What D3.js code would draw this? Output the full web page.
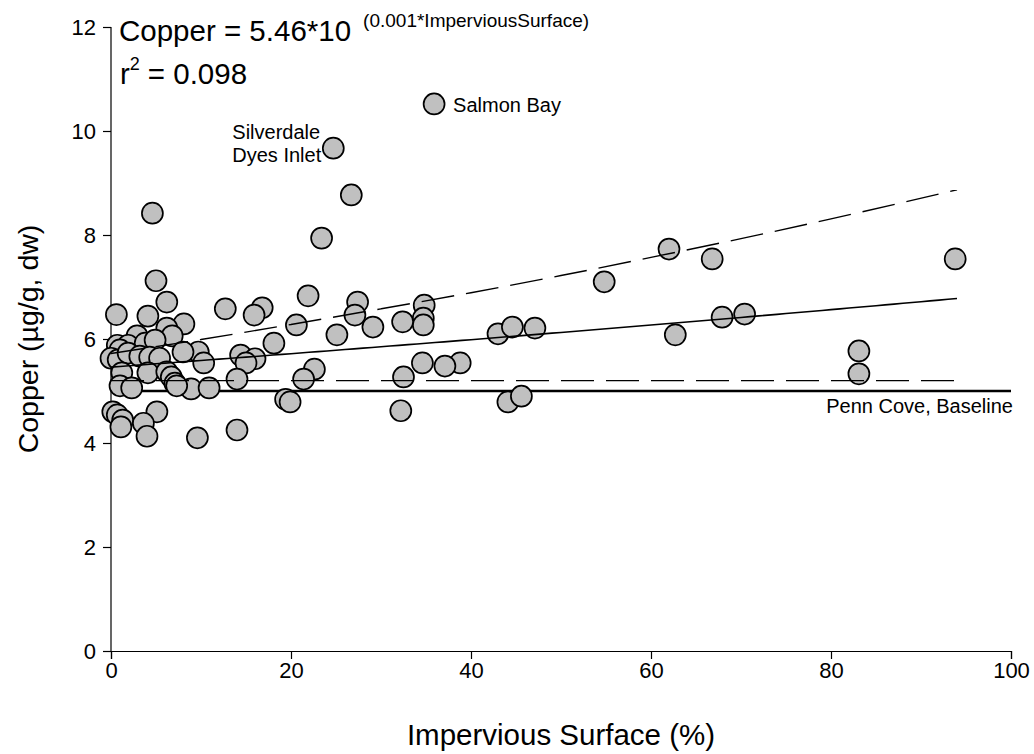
<!DOCTYPE html>
<html>
<head>
<meta charset="utf-8">
<script src="https://cdn.jsdelivr.net/npm/d3@7"></script>
<style>
  html, body { margin: 0; padding: 0; background: #fff; }
  svg { display: block; font-family: "Liberation Sans", Arial, sans-serif; }
</style>
</head>
<body>
<svg id="chart" width="1034" height="754"></svg>
<script>
// Impervious surface (%) and copper concentration (µg/g, dw) per site
const impervious = [35.9, 24.7, 26.7, 23.4, 4.6, 5.0, 62.0, 66.8, 93.8, 54.8,
  0.6, 6.2, 21.9, 27.4, 12.7, 16.8, 15.9, 27.1, 34.8, 34.7,
  34.7, 32.4, 29.1, 25.1, 20.6, 8.1, 4.1, 43.0, 44.6, 47.1,
  62.7, 67.9, 70.4, 18.1, 83.1, 83.1, 38.8, 34.6, 37.1, 22.6,
  21.4, 32.5, 32.2, 44.1, 45.6, 14.4, 16.0, 15.0, 14.0, 9.7,
  10.3, 8.9, 10.9, 19.4, 19.9, 6.2, 6.8, 2.9, 0.7, 1.9,
  3.8, 4.9, 1.0, 0.0, 0.8, 1.9, 3.2, 4.3, 5.4, 8.0,
  1.2, 4.1, 6.2, 6.7, 7.1, 7.3, 1.0, 2.3, 0.2, 0.7,
  1.3, 1.1, 5.1, 3.6, 4.0, 9.6, 14.0];
const copper = [10.52, 9.67, 8.77, 7.94, 8.42, 7.12, 7.73, 7.54, 7.54, 7.10,
  6.47, 6.71, 6.83, 6.71, 6.58, 6.60, 6.46, 6.46, 6.65, 6.40,
  6.27, 6.33, 6.23, 6.08, 6.27, 6.29, 6.44, 6.10, 6.23, 6.21,
  6.08, 6.42, 6.48, 5.92, 5.77, 5.33, 5.54, 5.54, 5.48, 5.42,
  5.23, 5.27, 4.62, 4.79, 4.90, 5.69, 5.62, 5.54, 5.23, 5.75,
  5.54, 5.04, 5.06, 4.84, 4.79, 6.21, 6.06, 6.06, 5.88, 5.88,
  5.92, 5.98, 5.79, 5.63, 5.60, 5.73, 5.67, 5.65, 5.63, 5.75,
  5.35, 5.35, 5.37, 5.27, 5.15, 5.10, 5.10, 5.06, 4.60, 4.54,
  4.44, 4.31, 4.60, 4.38, 4.13, 4.10, 4.25];

// Fitted model: Copper = a * 10^(b * ImperviousSurface)
const fitCoef = [5.46, 0.001];
const fitRange = [0, 94];
const rSquared = 0.098;

// Upper and lower dashed bounds around the fit
const upperBandX = [0, 10, 20, 30, 40, 50, 60, 70, 80, 94];
const upperBandY = [5.72, 5.99, 6.28, 6.58, 6.89, 7.22, 7.57, 7.93, 8.31, 8.87];
const lowerBandX = [0, 94];
const lowerBandY = [5.2, 5.2];

// Penn Cove reference level
const baselineValue = 5.0;
const baselineLabel = "Penn Cove, Baseline";

// Named sites
const siteNames = ["Salmon Bay", "Silverdale\nDyes Inlet"];
const siteIndex = [0, 1];

const xTicks = [0, 20, 40, 60, 80, 100];
const yTicks = [0, 2, 4, 6, 8, 10, 12];

const svg = d3.select("#chart");
const x = d3.scaleLinear().domain([0, 100]).range([111, 1011]);
const y = d3.scaleLinear().domain([0, 12]).range([651, 27]);

// Axes
const xAxis = svg.append("g")
  .attr("transform", `translate(0,${y(0)})`)
  .call(d3.axisBottom(x).tickValues(xTicks).tickSize(8).tickPadding(3).tickFormat(d3.format("d")));
const yAxis = svg.append("g")
  .attr("transform", `translate(${x(0)},0)`)
  .call(d3.axisLeft(y).tickValues(yTicks).tickSize(8).tickPadding(7).tickFormat(d3.format("d")));
[xAxis, yAxis].forEach(g => {
  g.select(".domain").attr("stroke", "#000").attr("stroke-width", 1.2);
  g.selectAll(".tick line").attr("stroke", "#000").attr("stroke-width", 1.2);
  g.selectAll(".tick text").attr("fill", "#000").style("font-size", "22px")
    .style("font-family", "'Liberation Sans', Arial, sans-serif");
});
yAxis.select(".domain").attr("d", `M0,${y(12)}V${y(0)}`);
yAxis.selectAll(".tick text").attr("dy", "0.36em");

// Axis titles
svg.append("text")
  .attr("x", x(50)).attr("y", 745)
  .attr("text-anchor", "middle")
  .style("font-size", "29.5px")
  .text("Impervious Surface (%)");
svg.append("text")
  .attr("transform", `translate(38,${y(6)}) rotate(-90)`)
  .attr("text-anchor", "middle")
  .style("font-size", "28.5px")
  .text("Copper (µg/g, dw)");

// Baseline sits beneath the markers
svg.append("line")
  .attr("x1", x(0)).attr("x2", x(100))
  .attr("y1", y(baselineValue)).attr("y2", y(baselineValue))
  .attr("stroke", "#000").attr("stroke-width", 2.6);
svg.append("text")
  .attr("x", x(100) + 2).attr("y", y(baselineValue) + 22)
  .attr("text-anchor", "end")
  .style("font-size", "20px")
  .text(baselineLabel);

// Markers
svg.append("g").selectAll("circle")
  .data(d3.range(impervious.length))
  .join("circle")
  .attr("cx", i => x(impervious[i]))
  .attr("cy", i => y(copper[i]))
  .attr("r", 10.5)
  .attr("fill", "#c0c0c0")
  .attr("stroke", "#000")
  .attr("stroke-width", 1.7);

// Fitted curve and bounds drawn over markers
const line = d3.line().x(d => x(d[0])).y(d => y(d[1]));
const fitPts = d3.range(fitRange[0], fitRange[1] + 0.01, 1)
  .map(v => [v, fitCoef[0] * Math.pow(10, fitCoef[1] * v)]);
svg.append("path")
  .attr("d", line(fitPts))
  .attr("fill", "none").attr("stroke", "#000").attr("stroke-width", 1.6);

const upperPts = upperBandX.map((v, i) => [v, upperBandY[i]]);
svg.append("path")
  .attr("d", d3.line().x(d => x(d[0])).y(d => y(d[1])).curve(d3.curveMonotoneX)(upperPts))
  .attr("fill", "none").attr("stroke", "#000").attr("stroke-width", 1.4)
  .attr("stroke-dasharray", "33,12");
const lowerPts = lowerBandX.map((v, i) => [v, lowerBandY[i]]);
svg.append("path")
  .attr("d", line(lowerPts))
  .attr("fill", "none").attr("stroke", "#000").attr("stroke-width", 1.4)
  .attr("stroke-dasharray", "33,12");

// Site labels
const sal = siteIndex[0];
svg.append("text")
  .attr("x", x(impervious[sal]) + 19).attr("y", y(copper[sal]) + 8)
  .style("font-size", "20px")
  .text(siteNames[0]);
const sil = siteIndex[1];
const silLines = siteNames[1].split("\n");
svg.append("text")
  .attr("y", y(copper[sil]) - 9)
  .style("font-size", "20px")
  .selectAll("tspan").data(silLines).join("tspan")
  .attr("x", x(impervious[sil]) - 101)
  .attr("dy", (d, i) => i === 0 ? 0 : 23)
  .text(d => d);

// Equation and r²
const eq = svg.append("text").attr("x", 119).attr("y", 41).style("font-size", "29.5px");
eq.append("tspan").text(`Copper = ${fitCoef[0]}*10`);
eq.append("tspan").attr("dx", 12).attr("dy", -14).style("font-size", "19px")
  .text(`(${fitCoef[1]}*ImperviousSurface)`);
const r2 = svg.append("text").attr("x", 120).attr("y", 84).style("font-size", "29.5px");
r2.append("tspan").text("r");
r2.append("tspan").attr("dy", -14).style("font-size", "18px").text("2");
r2.append("tspan").attr("dx", 8).attr("dy", 14).text(`= ${rSquared}`);
</script>
</body>
</html>
